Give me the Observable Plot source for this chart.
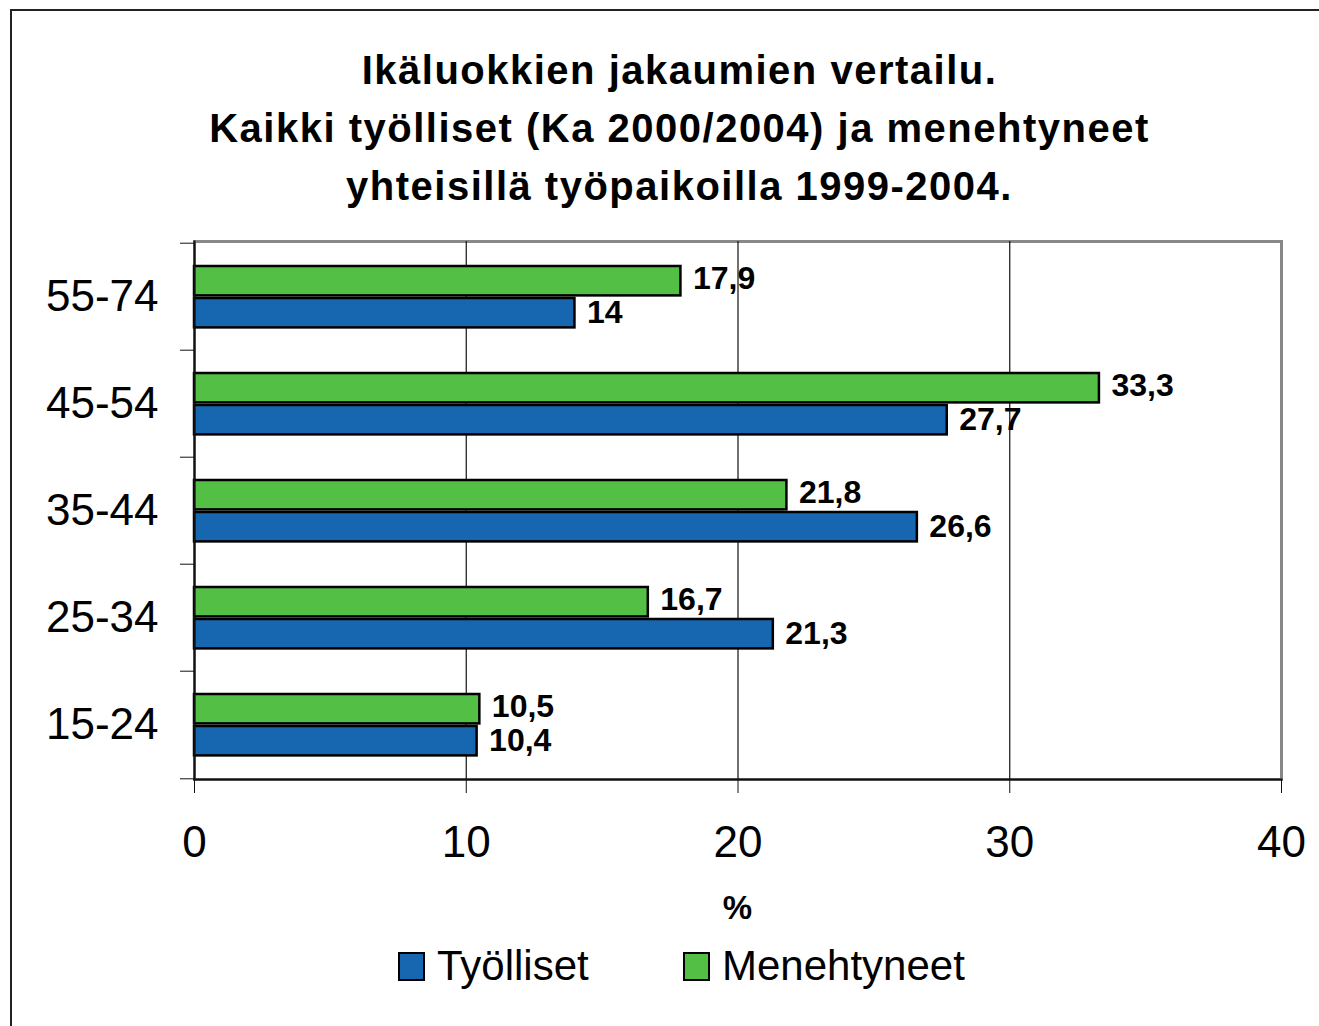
<!DOCTYPE html>
<html>
<head>
<meta charset="utf-8">
<script src="https://cdn.jsdelivr.net/npm/d3@7"></script>
<script src="https://cdn.jsdelivr.net/npm/@observablehq/plot@0.6"></script>
<style>
  html, body { margin: 0; padding: 0; background: #fff; }
  body { width: 1319px; height: 1026px; position: relative; overflow: hidden; font-family: Arial, "Liberation Sans", Helvetica, sans-serif; }
  #border { position: absolute; left: 10px; top: 9px; width: 1400px; height: 1100px; border-left: 2px solid #222; border-top: 2px solid #222; z-index: 10; pointer-events: none; }
  #title { position: relative; height: 220px; box-sizing: border-box; padding-top: 41px; padding-left: 40px; text-align: center; font-weight: bold; font-size: 40px; line-height: 58px; letter-spacing: 1.5px; color: #000; }
  #chart { position: relative; height: 660px; }
  #chart svg { display: block; }
  #xlabel { position: relative; height: 55px; width: 1475px; text-align: center; font-weight: bold; font-size: 33px; line-height: 55px; }
  #legend { position: absolute; top: 935px; left: 0; width: 1319px; height: 60px; font-size: 42px; }
  .item { position: absolute; top: 8px; display: flex; align-items: center; height: 46px; }
  .sw { width: 23px; height: 25px; border: 2px solid #000; margin-right: 12px; }
</style>
</head>
<body>
<div id="border"></div>
<div id="title">Ikäluokkien jakaumien vertailu.<br>Kaikki työlliset (Ka 2000/2004) ja menehtyneet<br>yhteisillä työpaikoilla 1999-2004.</div>
<div id="chart"></div>
<div id="xlabel">%</div>
<div id="legend"></div>
<script>
const ages = ["55-74", "45-54", "35-44", "25-34", "15-24"];
const tyolliset = [14, 27.7, 26.6, 21.3, 10.4];
const menehtyneet = [17.9, 33.3, 21.8, 16.7, 10.5];
const seriesNames = ["Työlliset", "Menehtyneet"];
const seriesColors = ["#1767b0", "#53bf45"];
const xTicks = [0, 10, 20, 30, 40];
const gridTicks = [10, 20, 30];

const rowsT = ages.map((a, i) => ({age: a, value: tyolliset[i]}));
const rowsM = ages.map((a, i) => ({age: a, value: menehtyneet[i]}));
const fmt = v => String(v).replace(".", ",");

const W = 1319, H = 660, mt = 21, mb = 101;
const bw = (H - mt - mb) / ages.length;

const chart = Plot.plot({
  width: W,
  height: H,
  marginLeft: 194,
  marginRight: 38,
  marginTop: mt,
  marginBottom: mb,
  style: {fontFamily: "Arial, 'Liberation Sans', Helvetica, sans-serif", color: "#000", background: "transparent"},
  x: {domain: [0, 40]},
  y: {domain: ages, padding: 0},
  marks: [
    Plot.frame({stroke: "#888", strokeWidth: 3}),
    Plot.ruleX(gridTicks, {stroke: "#111", strokeWidth: 1.2}),
    Plot.barX(rowsM, {y: "age", x: "value", fill: seriesColors[1], stroke: "#000", strokeWidth: 2.5, insetTop: 23, insetBottom: bw - 53}),
    Plot.barX(rowsT, {y: "age", x: "value", fill: seriesColors[0], stroke: "#000", strokeWidth: 2.5, insetTop: 55, insetBottom: bw - 85}),
    Plot.text(rowsM, {y: "age", x: "value", text: d => fmt(d.value), textAnchor: "start", dx: 12, dy: -18, fontSize: 32, fontWeight: "bold", fill: "#000"}),
    Plot.text(rowsT, {y: "age", x: "value", text: d => fmt(d.value), textAnchor: "start", dx: 12, dy: 16, fontSize: 32, fontWeight: "bold", fill: "#000"}),
    Plot.frame({anchor: "bottom", stroke: "#111", strokeWidth: 2}),
    Plot.frame({anchor: "left", stroke: "#111", strokeWidth: 2}),
    Plot.axisX({ticks: xTicks, tickSize: 14, tickPadding: 32, fontSize: 44, label: null, stroke: "#111"}),
    Plot.axisY({tickSize: 0, tickPadding: 36, fontSize: 44, label: null}),
    Plot.axisY({tickSize: 14, text: null, dy: -bw / 2, label: null, stroke: "#111"}),
    Plot.axisY({ticks: [ages[ages.length - 1]], tickSize: 14, text: null, dy: bw / 2, label: null, stroke: "#111"})
  ]
});
document.getElementById("chart").appendChild(chart);

const legend = document.getElementById("legend");
const legendX = [398, 683];
seriesNames.forEach((name, i) => {
  const item = document.createElement("div");
  item.className = "item";
  item.style.left = legendX[i] + "px";
  const sw = document.createElement("div");
  sw.className = "sw";
  sw.style.background = seriesColors[i];
  const t = document.createElement("span");
  t.textContent = name;
  item.appendChild(sw);
  item.appendChild(t);
  legend.appendChild(item);
});
</script>
</body>
</html>
